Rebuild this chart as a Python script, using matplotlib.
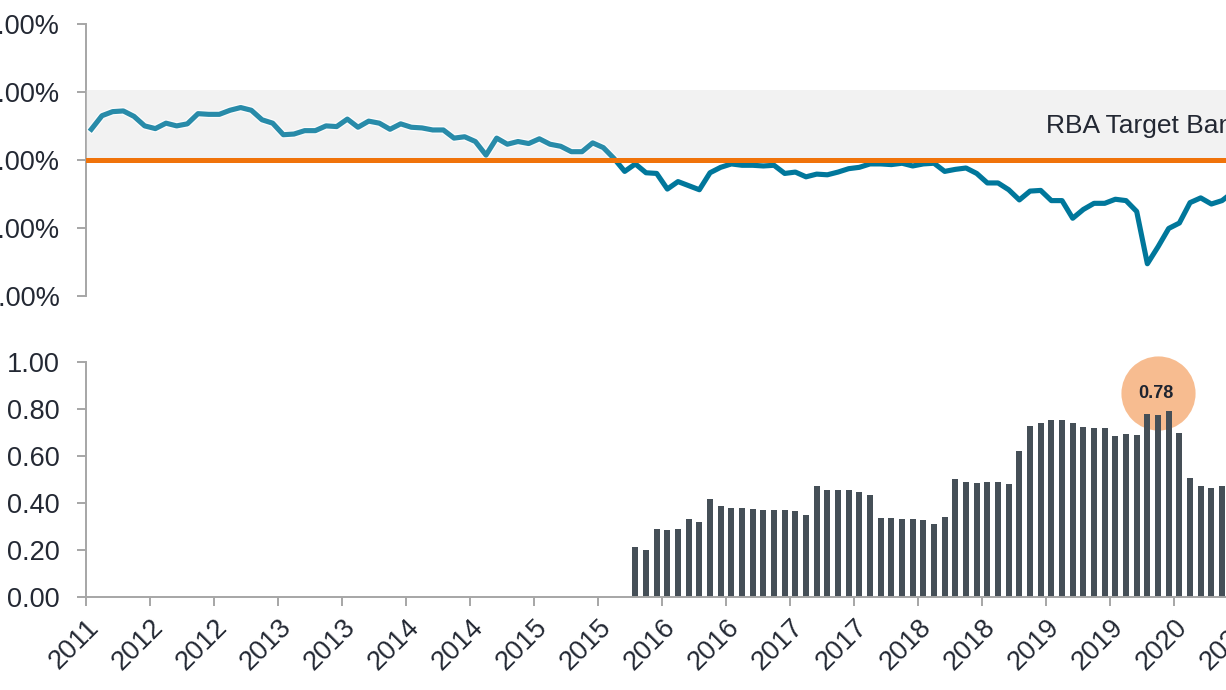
import matplotlib
matplotlib.use("Agg")
import matplotlib.pyplot as plt
import matplotlib.patheffects as pe
import numpy as np

plt.rcParams.update({
    "font.family": ["Liberation Sans", "DejaVu Sans"],
    "font.size": 19.5,
})

# monthly CPI (%) - one value per month, first month sits on the "2011" tick
cpi = [2.45, 2.65, 2.71, 2.72, 2.64, 2.50, 2.46, 2.54, 2.50, 2.53,
       2.68, 2.67, 2.67, 2.73, 2.77, 2.73, 2.59, 2.54, 2.37, 2.38,
       2.43, 2.43, 2.50, 2.49, 2.60, 2.48, 2.57, 2.54, 2.45, 2.53,
       2.48, 2.47, 2.44, 2.44, 2.32, 2.34, 2.27, 2.07, 2.32, 2.23,
       2.27, 2.24, 2.31, 2.23, 2.20, 2.12, 2.12, 2.25, 2.18, 2.02,
       1.83, 1.94, 1.81, 1.80, 1.57, 1.68, 1.62, 1.56, 1.81, 1.89,
       1.94, 1.92, 1.92, 1.91, 1.92, 1.80, 1.82, 1.75, 1.79, 1.78,
       1.82, 1.87, 1.89, 1.94, 1.94, 1.93, 1.95, 1.91, 1.94, 1.95,
       1.83, 1.86, 1.88, 1.80, 1.66, 1.66, 1.56, 1.41, 1.54, 1.55,
       1.40, 1.40, 1.14, 1.27, 1.36, 1.36, 1.42, 1.40, 1.24, 0.47,
       0.72, 0.99, 1.07, 1.37, 1.44, 1.35, 1.40, 1.52]

# monthly bar series, same months as cpi (no data before mid 2016)
bars = [np.nan] * 51 + [
    0.21, 0.20, 0.29, 0.285, 0.29, 0.33, 0.32, 0.415, 0.385,
    0.38, 0.38, 0.375, 0.37, 0.37, 0.37, 0.365, 0.35, 0.47, 0.455,
    0.455, 0.455, 0.445, 0.435, 0.335, 0.335, 0.33, 0.33, 0.325, 0.31,
    0.34, 0.50, 0.49, 0.485, 0.49, 0.49, 0.48, 0.62, 0.726, 0.738,
    0.752, 0.755, 0.739, 0.725, 0.717, 0.717, 0.685, 0.692, 0.69, 0.777,
    0.773, 0.79, 0.698, 0.504, 0.471, 0.463, 0.471]

tick_labels = ["2011", "2012", "2012", "2013", "2013", "2014", "2014",
               "2015", "2015", "2016", "2016", "2017", "2017", "2018",
               "2018", "2019", "2019", "2020", "2020"]

band = (2.0, 3.03)
target = 2.0
highlight_value = 0.78

line_color = "#00779B"
bar_color = "#454F57"
orange = "#F0730A"
spine_gray = "#A6A6A6"
text_color = "#232833"

W, H = 1226, 690
month_px = 10.667
x0 = 86
xmax = 110

fig = plt.figure(figsize=(W / 100, H / 100), dpi=100)
width = xmax * month_px / W
ax1 = fig.add_axes([x0 / W, (H - 295.7) / H, width, 271.7 / H])
ax2 = fig.add_axes([x0 / W, (H - 596.7) / H, width, 234.7 / H])

x = np.arange(len(cpi)) + 0.5

# --- top panel: CPI vs target band
ax1.axhspan(band[0], band[1], color="#F2F2F2", zorder=0, lw=0)
ax1.plot(x, cpi, color=line_color, lw=3.7, zorder=2,
         path_effects=[pe.Stroke(linewidth=5.5, foreground="white"), pe.Normal()])
ax1.axhspan(band[0], band[1], color="#F2F2F2", alpha=0.17, zorder=3, lw=0)
ax1.axhline(target, color=orange, lw=3.6, zorder=4)
ax1.text(90, 2.5, "RBA Target Band", color=text_color, fontsize=19,
         ha="left", va="center")

ax1.set_xlim(0, xmax)
ax1.set_ylim(0, 4)
ax1.set_yticks([0, 1, 2, 3, 4])
ax1.set_yticklabels([f"{v:.2f}%" for v in [0, 1, 2, 3, 4]])
ax1.set_xticks([])
for s in ["top", "right", "bottom"]:
    ax1.spines[s].set_visible(False)

# --- bottom panel: bars
bx = np.arange(len(bars)) + 0.5
ax2.scatter([100.5], [0.867], s=2850, color="#F7B98A", alpha=0.95,
            zorder=1, linewidths=0, clip_on=False)
ax2.bar(bx, bars, width=0.55, color=bar_color, zorder=2)
ax2.text(100.3, 0.867, f"{highlight_value:.2f}", fontsize=13,
         fontweight="bold", color="#1E2430", ha="center", va="center",
         zorder=3)

ax2.set_xlim(0, xmax)
ax2.set_ylim(0, 1)
ax2.set_yticks(np.arange(0, 1.01, 0.2))
ax2.set_yticklabels([f"{v:.2f}" for v in np.arange(0, 1.01, 0.2)])
ax2.set_xticks(np.arange(0, 6 * len(tick_labels), 6))
ax2.set_xticklabels(tick_labels, rotation=45, ha="right", va="top",
                    rotation_mode="anchor")
for s in ["top", "right"]:
    ax2.spines[s].set_visible(False)

for ax in (ax1, ax2):
    for s in ["left", "bottom"]:
        ax.spines[s].set_color(spine_gray)
        ax.spines[s].set_linewidth(1.4)
    ax.tick_params(axis="both", colors=spine_gray, labelcolor=text_color,
                   length=6.5, width=1.4, labelsize=19.5)
    ax.tick_params(axis="y", pad=12.5)
    ax.tick_params(axis="x", pad=6)
    ax.set_facecolor("none")

fig.savefig("out.png", dpi=100)
